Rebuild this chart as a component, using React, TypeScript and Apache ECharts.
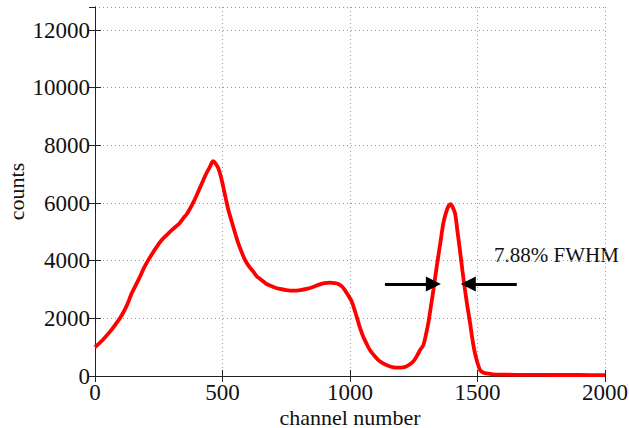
import React, { useEffect, useRef } from "react";
import * as echarts from "echarts";

const channels = [
  0, 30, 59, 80, 105, 125, 144, 160, 176, 192, 209, 225, 242, 260, 281, 300, 314, 330, 346, 360,
  373, 386, 399, 412, 425, 438, 451, 458, 464, 472, 484, 494, 503, 513, 523, 533, 542, 552, 562, 575,
  588, 604, 621, 634, 647, 660, 673, 700, 725, 750, 778, 805, 830, 855, 882, 900, 922, 940, 954, 968,
  980, 994, 1007, 1026, 1040, 1052, 1065, 1078, 1098, 1118, 1145, 1170, 1190, 1209, 1230, 1248, 1262, 1275, 1288, 1297,
  1307, 1317, 1327, 1336, 1346, 1356, 1366, 1376, 1385, 1395, 1403, 1412, 1421, 1431, 1441, 1451, 1461, 1471, 1480, 1490,
  1500, 1510, 1522, 1536, 1560, 1600, 1700, 1800, 1900, 2000,
];
const counts = [
  1000, 1250, 1540, 1780, 2110, 2450, 2870, 3150, 3440, 3750, 4020, 4250, 4480, 4700, 4890, 5050, 5160, 5280, 5470, 5620,
  5810, 6030, 6280, 6540, 6800, 7050, 7260, 7400, 7450, 7380, 7200, 6900, 6560, 6150, 5760, 5450, 5180, 4880, 4600, 4300,
  4030, 3800, 3620, 3460, 3370, 3280, 3190, 3090, 3020, 2980, 2960, 2980, 3020, 3090, 3180, 3220, 3240, 3220, 3190, 3110,
  2980, 2780, 2580, 2060, 1650, 1360, 1120, 900, 680, 500, 370, 300, 290, 300, 380, 500, 690, 900, 1080, 1400,
  1830, 2400, 2980, 3550, 4140, 4720, 5300, 5650, 5870, 5960, 5850, 5640, 5050, 4370, 3650, 2980, 2380, 1830, 1280, 790,
  450, 210, 120, 90, 60, 45, 40, 35, 35, 30,
];

const arrowY = 3190;
const leftArrow = [1137, 1327];
const rightArrow = [1654, 1464];
const annotation = "7.88% FWHM";
const xLabel = "channel number";
const yLabel = "counts";

const FONT = "'Liberation Serif', 'Times New Roman', serif";

export default function App() {
  const ref = useRef<HTMLDivElement>(null);
  useEffect(() => {
    if (!ref.current) return;
    const chart = echarts.init(ref.current, undefined, { renderer: "svg" });
    const axisLine = { show: true, lineStyle: { color: "#222", width: 1 } };
    const tick = { show: true, inside: true, length: 6, lineStyle: { color: "#222" } };
    const split = { show: true, lineStyle: { color: "#9a9a9a", type: [1, 3] as any, width: 1 } };
    const fmt = (v: number) => String(v);
    chart.setOption({
      animation: false,
      backgroundColor: "#fff",
      grid: { left: 95, right: 24, top: 7, bottom: 52, containLabel: false, outerBoundsMode: "none" },
      xAxis: [
        {
          type: "value",
          min: 0,
          max: 2000,
          interval: 500,
          position: "bottom",
          axisLine,
          axisTick: tick,
          splitLine: split,
          axisLabel: { color: "#111", fontFamily: FONT, fontSize: 23, margin: 5, formatter: fmt },
          name: xLabel,
          nameLocation: "middle",
          nameGap: 30,
          nameMoveOverlap: false,
          nameTextStyle: { color: "#111", fontFamily: FONT, fontSize: 22 },
        },
        {
          type: "value",
          min: 0,
          max: 2000,
          interval: 500,
          position: "top",
          axisLine,
          axisTick: tick,
          splitLine: { show: false },
          axisLabel: { show: false },
        },
      ],
      yAxis: [
        {
          type: "value",
          min: 0,
          max: 12800,
          interval: 2000,
          position: "left",
          axisLine,
          axisTick: tick,
          splitLine: split,
          axisLabel: { color: "#111", fontFamily: FONT, fontSize: 23, margin: 5, showMaxLabel: false, formatter: fmt },
          name: yLabel,
          nameLocation: "middle",
          nameGap: 68,
          nameMoveOverlap: false,
          nameTextStyle: { color: "#111", fontFamily: FONT, fontSize: 22 },
        },
        {
          type: "value",
          min: 0,
          max: 12800,
          interval: 2000,
          position: "right",
          axisLine,
          axisTick: tick,
          splitLine: { show: false },
          axisLabel: { show: false },
        },
      ],
      series: [
        {
          type: "line",
          xAxisIndex: 0,
          yAxisIndex: 0,
          data: channels.map((c, i) => [c, counts[i]]),
          showSymbol: false,
          smooth: 0.3,
          lineStyle: { color: "#ff0000", width: 3.8 },
          markLine: {
            silent: true,
            symbol: ["none", "triangle"],
            symbolSize: [15, 15],
            label: { show: false },
            lineStyle: { color: "#000", width: 2.8, type: "solid" },
            data: [
              [{ coord: [leftArrow[0], arrowY] }, { coord: [leftArrow[1], arrowY] }],
              [{ coord: [rightArrow[0], arrowY] }, { coord: [rightArrow[1], arrowY] }],
            ],
          },
        },
      ],
      graphic: [
        {
          type: "text",
          x: 494,
          y: 255,
          style: {
            text: annotation,
            fontFamily: FONT,
            fontSize: 21,
            fill: "#111",
            verticalAlign: "middle",
            align: "left",
          },
        },
      ],
    });
    return () => chart.dispose();
  }, []);
  return <div ref={ref} style={{ width: 629, height: 428, position: "absolute", left: 0, top: 0 }} />;
}
